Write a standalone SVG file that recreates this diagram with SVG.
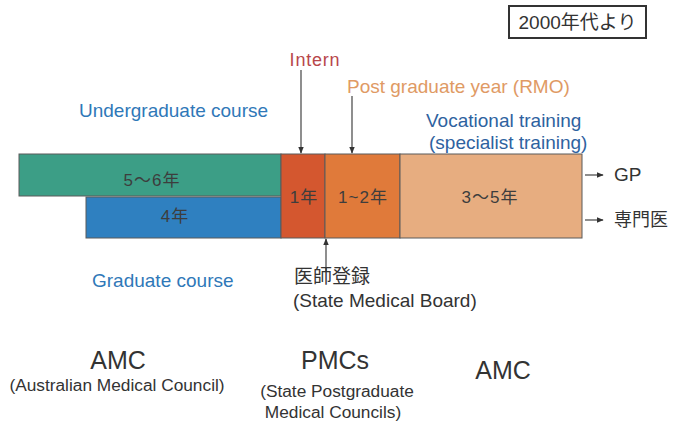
<svg xmlns="http://www.w3.org/2000/svg" width="675" height="425" viewBox="0 0 675 425">
<defs>
<style>
text{font-family:"Liberation Sans","Noto Sans CJK JP",sans-serif;}
.bar{stroke:#5a5a5a;stroke-width:1;}
.bt{font-size:17px;fill:#3d3d3d;text-anchor:middle;letter-spacing:1px;}
.ln{stroke:#444;stroke-width:1.2;fill:none;}
.lbl{font-size:19px;}
.blk{fill:#333;}
.sub{font-size:17.3px;text-anchor:middle;}
.big{font-size:25px;text-anchor:middle;}
</style>
<marker id="ah" viewBox="0 0 10 10" refX="9" refY="5" markerWidth="6" markerHeight="6" orient="auto">
<path d="M0,1 L10,5 L0,9 Z" fill="#333"/>
</marker>
</defs>
<rect width="675" height="425" fill="#fff"/>

<g id="title">
<rect x="509" y="6" width="137" height="32" fill="#fff" stroke="#333" stroke-width="2"/>
<text x="577.5" y="29" font-size="19" text-anchor="middle" class="blk">2000年代より</text>
</g>

<g id="undergrad">
<rect class="bar" x="19" y="154" width="262" height="42" fill="#3c9e86"/>
<text class="bt" x="152" y="186">5〜6年</text>
</g>
<g id="grad">
<rect class="bar" x="86" y="197" width="195" height="41" fill="#2f80c0"/>
<text class="bt" x="175" y="222">4年</text>
</g>
<g id="intern">
<rect class="bar" x="281" y="154" width="44" height="84" fill="#d4572f"/>
<text class="bt" x="304" y="203">1年</text>
</g>
<g id="rmo">
<rect class="bar" x="325" y="154" width="75" height="84" fill="#e07a3a"/>
<text class="bt" x="363" y="203">1~2年</text>
</g>
<g id="vocational">
<rect class="bar" x="400" y="154" width="182" height="84" fill="#e7ad80"/>
<text class="bt" x="490" y="203">3〜5年</text>
</g>

<g id="connectors">
<line class="ln" x1="301" y1="70" x2="301" y2="153" marker-end="url(#ah)"/>
<line class="ln" x1="352" y1="96" x2="352" y2="153" marker-end="url(#ah)"/>
<line class="ln" x1="326" y1="272" x2="326" y2="239" marker-end="url(#ah)"/>
<line class="ln" x1="585" y1="175" x2="603" y2="175" marker-end="url(#ah)"/>
<line class="ln" x1="585" y1="220" x2="603" y2="220" marker-end="url(#ah)"/>
</g>

<g id="labels">
<text x="315" y="66" font-size="18" letter-spacing="0.8" text-anchor="middle" fill="#b8464a">Intern</text>
<text x="347" y="93" class="lbl" fill="#e09a64">Post graduate year (RMO)</text>
<text x="426" y="127" class="lbl" fill="#2e62a0">Vocational training</text>
<text x="429" y="149" class="lbl" fill="#2e62a0">(specialist training)</text>
<text x="79" y="117" class="lbl" fill="#2f78b8">Undergraduate course</text>
<text x="92" y="287" class="lbl" fill="#2f78b8">Graduate course</text>
<text x="614" y="181" class="lbl blk">GP</text>
<text x="614" y="226" font-size="18" class="blk">専門医</text>
<text x="294" y="283" class="lbl blk">医師登録</text>
<text x="293" y="307" class="lbl blk">(State Medical Board)</text>
</g>

<g id="councils">
<text x="118" y="369" class="big blk">AMC</text>
<text x="117" y="391" class="sub blk">(Australian Medical Council)</text>
<text x="335" y="369" class="big blk">PMCs</text>
<text x="337" y="397" class="sub blk">(State Postgraduate</text>
<text x="333" y="418" class="sub blk">Medical Councils)</text>
<text x="503" y="379" class="big blk">AMC</text>
</g>
</svg>
